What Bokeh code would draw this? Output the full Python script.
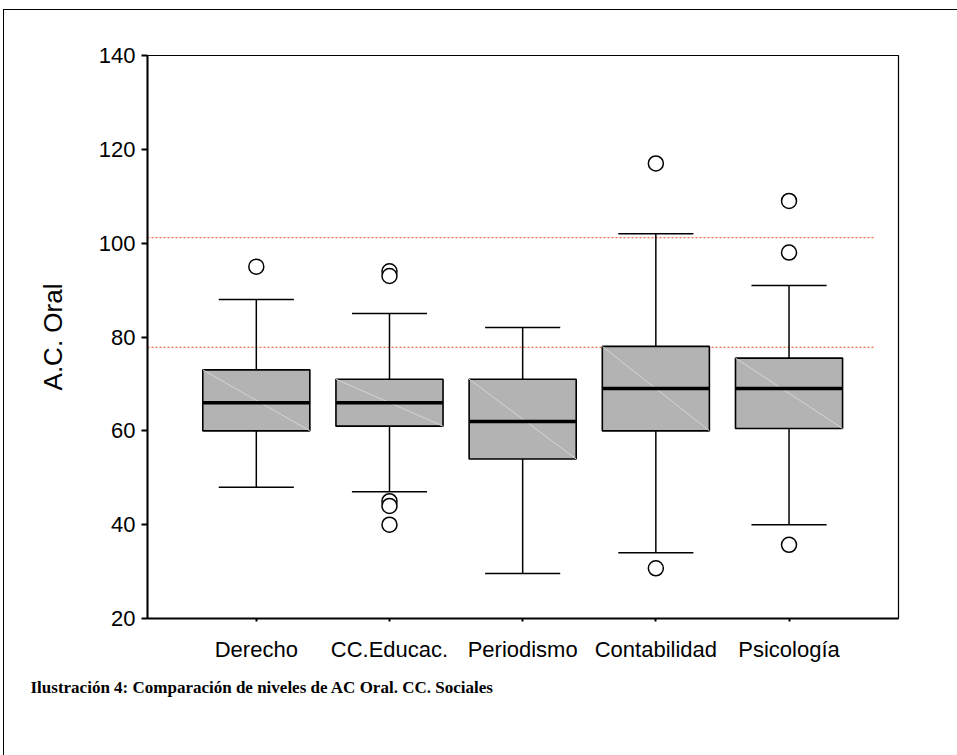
from bokeh.plotting import figure
from bokeh.models import Range1d, FixedTicker, Title
from bokeh.embed import file_html
from bokeh.resources import INLINE

# ---- data ----
categories = ["Derecho", "CC.Educac.", "Periodismo", "Contabilidad", "Psicología"]
whisker_low = [48, 47, 29.6, 34, 40]
q1 = [60, 61, 54, 60, 60.5]
median = [66, 66, 62, 69, 69]
q3 = [73, 71, 71, 78, 75.5]
whisker_high = [88, 85, 82, 102, 91]
outliers_derecho = [95]
outliers_educac = [94, 93, 45, 44, 40]
outliers_periodismo = []
outliers_contabilidad = [117, 30.7]
outliers_psicologia = [109, 98, 35.7]
reference_lines = [101.2, 77.8]
y_ticks = [20, 40, 60, 80, 100, 120, 140]

outliers = [outliers_derecho, outliers_educac, outliers_periodismo,
            outliers_contabilidad, outliers_psicologia]

xs = list(range(1, len(categories) + 1))
box_half = 0.402
cap_half = 0.282

p = figure(width=954, height=746, output_backend="svg", toolbar_location=None,
           x_range=Range1d(0.183, 5.822), y_range=Range1d(20, 140),
           min_border_left=143, min_border_right=60, min_border_top=45,
           min_border_bottom=138)
p.margin = (9, 0, 0, 3)
p.styles = {"border-left": "1px solid black", "border-top": "1px solid black"}
p.xgrid.visible = False
p.ygrid.visible = False
p.outline_line_color = "black"
p.outline_line_width = 1.2
p.background_fill_color = "white"
p.border_fill_color = "white"

# reference lines
for r in reference_lines:
    p.segment(x0=[0.183], x1=[5.634], y0=[r], y1=[r], line_color="#f86a48",
              line_width=1.3, line_dash="2 2")

# whiskers
p.segment(x0=xs, x1=xs, y0=q3, y1=whisker_high, line_color="black", line_width=1.5)
p.segment(x0=xs, x1=xs, y0=whisker_low, y1=q1, line_color="black", line_width=1.5)
p.segment(x0=[x - cap_half for x in xs], x1=[x + cap_half for x in xs],
          y0=whisker_high, y1=whisker_high, line_color="black", line_width=1.5)
p.segment(x0=[x - cap_half for x in xs], x1=[x + cap_half for x in xs],
          y0=whisker_low, y1=whisker_low, line_color="black", line_width=1.5)

# boxes
p.quad(left=[x - box_half for x in xs], right=[x + box_half for x in xs],
       bottom=q1, top=q3, fill_color="#b3b3b3", line_color="black", line_width=1.6)
# faint diagonal inside boxes
p.segment(x0=[x - box_half for x in xs], x1=[x + box_half for x in xs],
          y0=q3, y1=q1, line_color="#d4d4d4", line_width=1)
# medians
p.segment(x0=[x - box_half for x in xs], x1=[x + box_half for x in xs],
          y0=median, y1=median, line_color="black", line_width=3.5)

# outliers
ox, oy = [], []
for x, vals in zip(xs, outliers):
    for v in vals:
        ox.append(x)
        oy.append(v)
p.scatter(ox, oy, marker="circle", size=15, fill_color="white",
          line_color="black", line_width=1.5)

# axes
p.yaxis.ticker = FixedTicker(ticks=y_ticks)
p.yaxis.minor_tick_line_color = None
p.yaxis.major_tick_out = 6
p.yaxis.major_tick_in = 0
p.yaxis.major_tick_line_width = 2
p.yaxis.axis_line_width = 2
p.yaxis.major_label_text_font = "Liberation Sans"
p.yaxis.major_label_text_font_size = "22px"
p.yaxis.major_label_text_color = "black"
p.yaxis.major_label_standoff = 6
p.yaxis.axis_label = "A.C. Oral"
p.yaxis.axis_label_text_font = "Liberation Sans"
p.yaxis.axis_label_text_font_size = "26px"
p.yaxis.axis_label_text_font_style = "normal"
p.yaxis.axis_label_text_color = "black"
p.yaxis.axis_label_standoff = 28

p.xaxis.ticker = FixedTicker(ticks=xs)
p.xaxis.major_label_overrides = {x: c for x, c in zip(xs, categories)}
p.xaxis.minor_tick_line_color = None
p.xaxis.major_tick_out = 3
p.xaxis.major_tick_in = 0
p.xaxis.major_tick_line_width = 2
p.xaxis.axis_line_width = 2
p.xaxis.major_label_text_font = "Liberation Sans"
p.xaxis.major_label_text_font_size = "22px"
p.xaxis.major_label_text_color = "black"
p.xaxis.major_label_standoff = 15

caption = Title(text="Ilustración 4: Comparación de niveles de AC Oral. CC. Sociales",
                align="left", offset=-117, standoff=26, vertical_align="top",
                text_font="Liberation Serif", text_font_style="bold",
                text_font_size="17px", text_color="black")
p.add_layout(caption, "below")

open("out.html", "w").write(file_html(p, INLINE))
